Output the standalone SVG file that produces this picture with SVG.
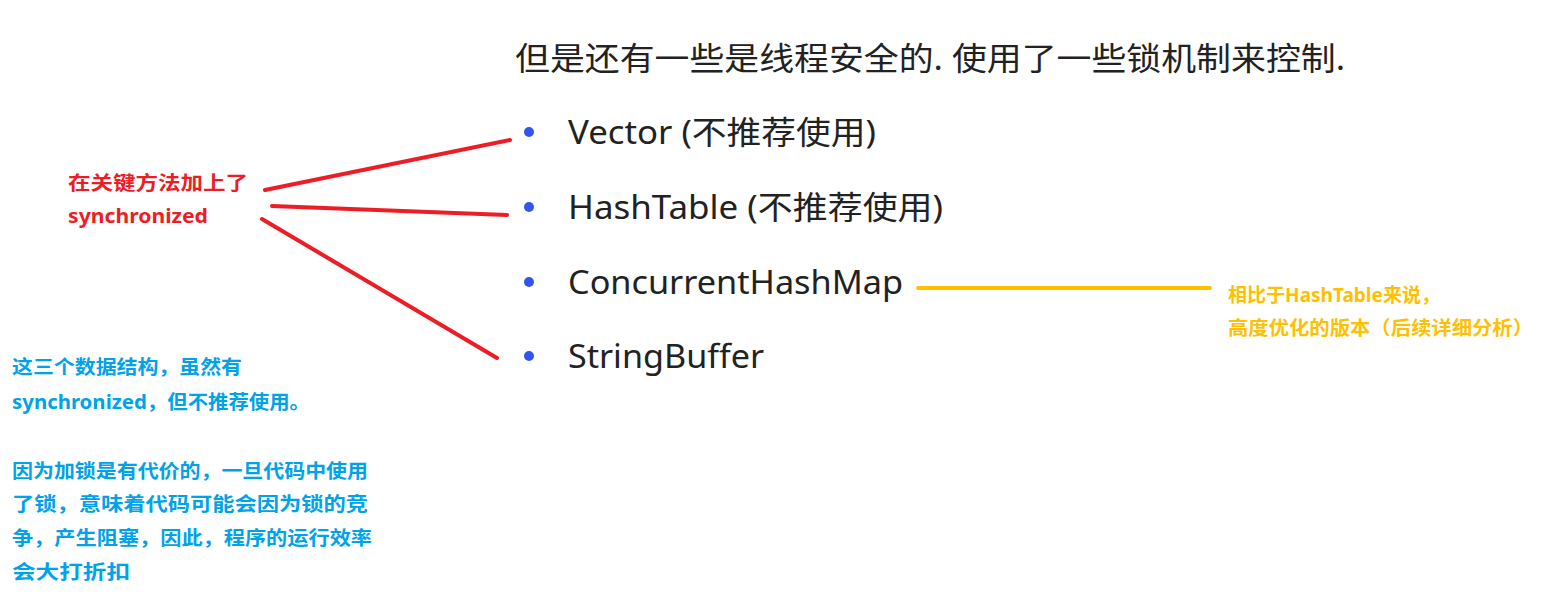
<svg xmlns="http://www.w3.org/2000/svg" width="1551" height="594" viewBox="0 0 1551 594">
<style>
.m{font-family:"Noto Sans","Noto Sans CJK SC",sans-serif;fill:#222;}
.t{font-size:32px}
.i{font-size:32px}
.b{font-family:"Noto Sans","Noto Sans CJK SC",sans-serif;font-weight:bold;font-size:19px}
.r{fill:#ee1c25}.y{fill:#ffc000}.c{fill:#00a2e8}
</style>
<rect width="1551" height="594" fill="#fff"/>
<g id="title"><text class="m t" x="515" y="70" textLength="830" lengthAdjust="spacingAndGlyphs">但是还有一些是线程安全的. 使用了一些锁机制来控制.</text></g>
<g id="list" fill="#3355ee">
<circle cx="529" cy="132" r="5"/><circle cx="529" cy="207" r="5"/><circle cx="529" cy="282" r="5"/><circle cx="529" cy="356" r="5"/>
<text class="m i" x="568" y="144" textLength="308" lengthAdjust="spacingAndGlyphs">Vector (不推荐使用)</text>
<text class="m i" x="568" y="219" textLength="375" lengthAdjust="spacingAndGlyphs">HashTable (不推荐使用)</text>
<text class="m i" x="568" y="294" textLength="335" lengthAdjust="spacingAndGlyphs">ConcurrentHashMap</text>
<text class="m i" x="568" y="368" textLength="196" lengthAdjust="spacingAndGlyphs">StringBuffer</text>
</g>
<g id="connectors" stroke-width="4" stroke-linecap="round">
<line x1="265" y1="190" x2="510" y2="140" stroke="#ee1c25"/>
<line x1="272" y1="206" x2="507" y2="215" stroke="#ee1c25"/>
<line x1="262" y1="219" x2="497" y2="358" stroke="#ee1c25"/>
<line x1="918" y1="288" x2="1210" y2="288" stroke="#ffc000"/>
</g>
<g id="note-red"><text class="b r" x="68" y="190" textLength="180" lengthAdjust="spacingAndGlyphs">在关键方法加上了</text><text class="b r" x="68" y="223" textLength="140" lengthAdjust="spacingAndGlyphs">synchronized</text></g>
<g id="note-yellow"><text class="b y" x="1228" y="302" textLength="212" lengthAdjust="spacingAndGlyphs">相比于HashTable来说，</text><text class="b y" x="1228" y="335" textLength="305" lengthAdjust="spacingAndGlyphs">高度优化的版本（后续详细分析）</text></g>
<g id="note-blue">
<text class="b c" x="12" y="374" textLength="230" lengthAdjust="spacingAndGlyphs">这三个数据结构，虽然有</text>
<text class="b c" x="12" y="409" textLength="298" lengthAdjust="spacingAndGlyphs">synchronized，但不推荐使用。</text>
<text class="b c" x="12" y="478" textLength="356" lengthAdjust="spacingAndGlyphs">因为加锁是有代价的，一旦代码中使用</text>
<text class="b c" x="12" y="511" textLength="356" lengthAdjust="spacingAndGlyphs">了锁，意味着代码可能会因为锁的竞</text>
<text class="b c" x="12" y="545" textLength="360" lengthAdjust="spacingAndGlyphs">争，产生阻塞，因此，程序的运行效率</text>
<text class="b c" x="12" y="579" textLength="118" lengthAdjust="spacingAndGlyphs">会大打折扣</text>
</g>
</svg>
